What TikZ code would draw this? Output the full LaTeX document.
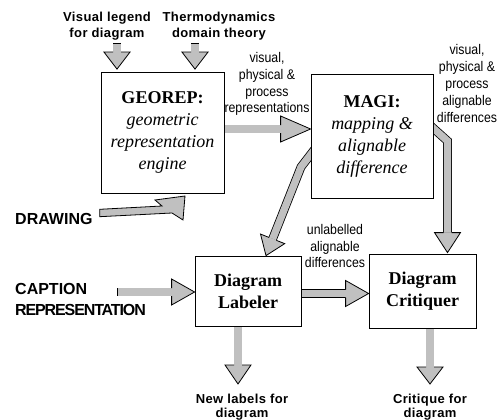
\documentclass[tikz,border=0pt]{standalone}
\usepackage{fontspec}
\setmainfont{Liberation Serif}
\newfontfamily\lblfont{Liberation Sans}[LetterSpace=3]
\newfontfamily\narrowfont{Liberation Sans}[FakeStretch=0.88]
\newfontfamily\bigfont{Liberation Sans}
\usetikzlibrary{calc}
\pgfdeclarelayer{background}
\pgfsetlayers{background,main}
\definecolor{arrowgray}{RGB}{192,192,192}
\tikzset{
  box/.style={draw=black, line width=0.8pt, fill=white, inner sep=0pt, align=center,
    font=\fontsize{18}{22}\selectfont},
  lbl/.style={inner sep=0pt, align=center, font=\lblfont\bfseries\fontsize{13}{15.5}\selectfont},
  blbl/.style={inner sep=0pt, align=center, font=\lblfont\bfseries\fontsize{13}{13.5}\selectfont},
  nlbl/.style={inner sep=0pt, align=center, font=\narrowfont\fontsize{14}{16.8}\selectfont},
  biglbl/.style={inner sep=0pt, align=left, font=\bigfont\bfseries\fontsize{16}{21}\selectfont},
  headsty/.style={fill=arrowgray, draw=black, line width=0.8pt, line join=miter},
  shaftout/.style={draw=black, line width=8.8pt, line join=miter, line cap=butt},
  shaftin/.style={draw=arrowgray, line width=7.2pt, line join=miter, line cap=butt},
  tailsh/.style={shorten <=0.8pt}
}
% #1 options for inner shaft, #2 head length, #3 shaft path, #4 last shaft point, #5 tip
\newcommand\fatarrow[5][]{%
  \coordinate (fah) at ($(#5)!#2pt!(#4)$);
  \draw[shaftout] #3 -- (fah);
  \draw[shaftin,#1] #3 -- (fah);
  \filldraw[headsty] ($(fah)!4pt!90:(#4)$) -- ($(fah)!13pt!90:(#4)$) -- (#5)
    -- ($(fah)!13pt!-90:(#4)$) -- ($(fah)!4pt!-90:(#4)$);
}
\begin{document}
\begin{tikzpicture}[x=1pt,y=-1pt]
\useasboundingbox (0,0) rectangle (498,420);

% boxes
\node[box, minimum width=123pt, minimum height=121.5pt] (georep) at (162.5,132.75)
  {\textbf{GEOREP:}\\\textit{geometric}\\\textit{representation}\\\textit{engine}};
\node[box, minimum width=122pt, minimum height=123.5pt] (magi) at (372,136.25)
  {\textbf{MAGI:}\\\textit{mapping \&}\\\textit{alignable}\\\textit{difference}};
\node[box, minimum width=106pt, minimum height=70pt] (labeler) at (248,291)
  {\textbf{Diagram}\\\textbf{Labeler}};
\node[box, minimum width=107pt, minimum height=74pt] (critiquer) at (422.5,291)
  {\textbf{Diagram}\\\textbf{Critiquer}};

% labels
\node[lbl] (legend) at (107,26) {Visual legend\\for diagram};
\node[lbl] (thermo) at (219,26) {Thermodynamics\\domain theory};
\node[nlbl] (replbl) at (267,84) {visual,\\physical \&\\process\\representations};
\node[nlbl] (diflbl) at (467,83.5) {visual,\\physical \&\\process\\alignable\\differences};
\node[nlbl] (unllbl) at (335,246) {unlabelled\\alignable\\differences};
\node[biglbl, anchor=west] (drawing) at (15,219) {DRAWING};
\node[biglbl, anchor=north west] (caption) at (15,283.3)
  {CAPTION\\{\addfontfeature{LetterSpace=-7}REPRESENTATION}};
\node[blbl] (newlbl) at (242,407) {New labels for\\diagram};
\node[blbl] (critlbl) at (430,407) {Critique for\\diagram};

% connector coordinates
\coordinate (l0) at (117,43);
\coordinate (l1) at ($(georep.north -| l0)+(0,-2.5)$);
\coordinate (t0) at (195,43);
\coordinate (t1) at ($(georep.north -| t0)+(0,-2.5)$);
\coordinate (gm0) at ($(georep.east |- 0,129)+(-4,0)$);
\coordinate (gm1) at (magi.west |- 0,129);
\coordinate (ml0) at (316,147.5);
\coordinate (ml1) at (301,167);
\coordinate (ml2) at (labeler.north -| 266,0);
\coordinate (mc0) at (428,123.5);
\coordinate (mc1) at (447.5,141);
\coordinate (mc2) at ($(critiquer.north -| mc1)+(0,-1)$);
\coordinate (cl0) at (117,292);
\coordinate (cl1) at (labeler.west |- cl0);
\coordinate (lc0) at ($(labeler.east |- 0,293.5)+(-4,0)$);
\coordinate (lc1) at (critiquer.west |- lc0);
\coordinate (ld0) at ($(labeler.south -| 238,0)+(0,-4)$);
\coordinate (ld1) at (238,384);
\coordinate (cd0) at ($(critiquer.south -| 430,0)+(0,-4)$);
\coordinate (cd1) at (430,384);
\coordinate (dr0) at ($(drawing.east)+(7,-9.7)$);
\coordinate (dr6) at ($(drawing.east)+(7,-2.3)$);

\begin{pgfonlayer}{background}
\fatarrow[tailsh]{17}{(l0)}{l0}{l1}
\fatarrow[tailsh]{17}{(t0)}{t0}{t1}
\fatarrow{30}{(gm0)}{gm0}{gm1}
\fatarrow{18}{(ml0) -- (ml1)}{ml1}{ml2}
\fatarrow{20}{(mc0) -- (mc1)}{mc1}{mc2}
\fatarrow[tailsh]{23}{(cl0)}{cl0}{cl1}
\fatarrow{23}{(lc0)}{lc0}{lc1}
\fatarrow{19}{(ld0)}{ld0}{ld1}
\fatarrow{17}{(cd0)}{cd0}{cd1}
\filldraw[headsty] (dr0) -- (162,206) -- (155,200) -- (185,196) -- (183,220)
  -- (172,213) -- (dr6) -- cycle;
\end{pgfonlayer}
\end{tikzpicture}
\end{document}
